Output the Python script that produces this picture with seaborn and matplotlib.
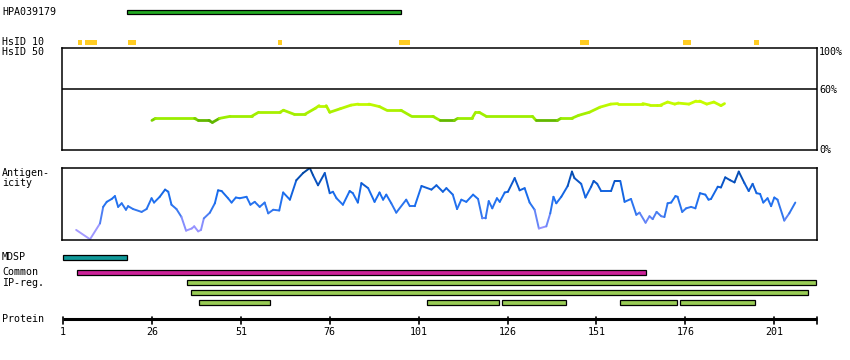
import numpy as np
import pandas as pd
import seaborn as sns
import matplotlib
matplotlib.use("Agg")
import matplotlib.pyplot as plt
from matplotlib.collections import LineCollection
from matplotlib.colors import LinearSegmentedColormap

# protein length and tick labels
prot_len = 213
tick_res = [1, 26, 51, 76, 101, 126, 151, 176, 201]

# antigen (HPA) and HsID regions, residue start/end
hpa_name = "HPA039179"
hpa_span = (19, 96)
hsid10_start = [5.2, 7.2, 19.3, 61.4, 95.4, 146.5, 175.4, 195.4]
hsid10_end = [6.3, 10.6, 21.5, 62.5, 98.5, 148.8, 177.7, 196.8]

# HsID 50 identity (%)
ident_pos = [26, 27, 38, 39, 42, 43, 45, 48, 54, 56, 62, 63, 66, 69, 72, 73, 75, 76,
             79, 82, 84, 87, 90, 92, 96, 99, 105, 107, 111, 112, 116, 117, 118, 120,
             133, 134, 140, 141, 144, 146, 149, 152, 155, 157, 164, 166, 168, 169, 171,
             173, 174, 177, 179, 180, 182, 184, 186, 187]
ident_val = [29, 31, 31, 29, 29, 27, 31, 33, 33, 37, 37, 39, 35, 35, 41, 43.5, 43.5, 37,
             40.5, 44, 45, 45, 42.5, 39, 39, 33, 33, 29, 29, 31, 31, 37, 37, 33,
             33, 29, 29, 31, 31, 34, 37, 42, 45, 45.5, 45.5, 44, 44, 44, 47,
             45, 46, 45, 48, 48, 45, 47, 43.5, 45.5]

# antigenicity score (0-1)
antig_pos = [4.7, 8.6, 11.4, 12.3, 13.3, 14.7, 15.6, 16.5, 17.5, 18.7, 19.3, 20.7, 23.1,
             24.5, 25.9, 26.6, 28.2, 29.7, 30.6, 31.5, 32.9, 34.3, 35.6, 37.2, 37.9, 39,
             39.8, 40.6, 42.3, 43.7, 44.6, 45.6, 47.4, 48.4, 49.6, 50.7, 52.6, 53.7, 54.9,
             56.3, 57.7, 58.7, 60.1, 61.8, 62.9, 64.8, 66.6, 68.5, 70.4, 71.3, 72.7, 74.6,
             76, 76.9, 77.9, 79.7, 81.6, 82.5, 83.9, 84.9, 86.8, 88.6, 90, 91, 91.9, 93.3,
             94.7, 97.5, 98.5, 99.9, 101.8, 104.6, 106, 107.8, 108.8, 110.6, 111.8, 113,
             114.4, 116.3, 117.7, 118.9, 119.8, 120.7, 121.7, 123, 123.8, 125.2, 126.1,
             128, 129.4, 130.8, 132.2, 133.6, 134.8, 136.9, 138, 138.9, 139.7, 141.1,
             142.9, 144.1, 144.8, 146.7, 147.9, 149.5, 150.2, 151.2, 152.3, 155.1, 156.1,
             157.7, 158.9, 160.7, 162.2, 163.1, 164.8, 165.9, 166.8, 167.9, 169.2, 170.1,
             171, 172, 173.2, 173.8, 175.1, 176.2, 177.6, 178.8, 180.1, 181.6, 182.5,
             183.2, 185.1, 186, 187.2, 188.6, 189.8, 191, 192.6, 193.8, 194.9, 196, 197,
             197.9, 199.1, 200.1, 201, 201.9, 203.8, 205.2, 206.9]
antig_val = [0.14, 0.01, 0.23, 0.46, 0.53, 0.57, 0.61, 0.46, 0.51, 0.42, 0.47, 0.43, 0.39,
             0.43, 0.58, 0.52, 0.60, 0.70, 0.67, 0.49, 0.43, 0.32, 0.13, 0.16, 0.19, 0.12,
             0.14, 0.30, 0.38, 0.51, 0.69, 0.68, 0.58, 0.52, 0.59, 0.58, 0.60, 0.49, 0.53,
             0.46, 0.52, 0.37, 0.42, 0.41, 0.66, 0.56, 0.83, 0.93, 1.00, 0.90, 0.76, 0.93,
             0.65, 0.67, 0.58, 0.49, 0.68, 0.65, 0.52, 0.79, 0.72, 0.53, 0.66, 0.56, 0.63, 0.51,
             0.38, 0.56, 0.47, 0.47, 0.75, 0.70, 0.76, 0.67, 0.72, 0.63, 0.43, 0.56,
             0.53, 0.63, 0.57, 0.30, 0.30, 0.54, 0.44, 0.58, 0.53, 0.66, 0.67,
             0.86, 0.69, 0.72, 0.52, 0.42, 0.16, 0.19, 0.37, 0.60, 0.51, 0.60,
             0.75, 0.95, 0.86, 0.78, 0.59, 0.74, 0.82, 0.78, 0.68, 0.68, 0.82,
             0.82, 0.53, 0.57, 0.35, 0.38, 0.24, 0.33, 0.29, 0.39, 0.33, 0.32,
             0.51, 0.52, 0.61, 0.60, 0.39, 0.44, 0.46, 0.44, 0.65, 0.63, 0.56,
             0.57, 0.74, 0.73, 0.87, 0.83, 0.80, 0.95, 0.79, 0.68, 0.78, 0.65, 0.64,
             0.52, 0.58, 0.47, 0.59, 0.56, 0.27, 0.37, 0.52]

# feature tracks
mdsp_span = (1, 19)
common_span = (5, 165)
ipreg_rows = [[(36, 212.7)], [(37, 210.6)],
              [(39.2, 59.3), (103.3, 123.7), (124.4, 142.5), (157.5, 173.7), (174.4, 195.6)]]

sns.set_theme(style="white")
plt.rcParams["font.family"] = ["DejaVu Sans Mono", "DejaVu Sans"]
FS = 7.2

W, H = 850, 360
px0, ppr = 63, (817 - 63) / (prot_len - 1)   # pixel of residue 1, px per residue
xlim = (1 - px0 / ppr, 1 + (W - px0) / ppr)

fig = plt.figure(figsize=(W / 100, H / 100), dpi=100)
ax = fig.add_axes([0, 0, 1, 1])
ax.set_xlim(*xlim)
ax.set_ylim(H, 0)
ax.axis("off")

def lab(y, s):
    ax.text(1 - (px0 - 2) / ppr, y, s, fontsize=FS, va="center", ha="left", color="black")

def bar(a, b, y, h, color):
    ax.add_patch(plt.Rectangle((a, y - h / 2), b - a, h, facecolor=color,
                               edgecolor="black", linewidth=0.9))

lab(12, hpa_name)
bar(hpa_span[0], hpa_span[1], 12, 4.2, "#22aa22")

lab(42, "HsID 10")
for a, b in zip(hsid10_start, hsid10_end):
    ax.add_patch(plt.Rectangle((a, 40), b - a, 4.5, facecolor="#ffcc22", edgecolor="none"))
lab(52, "HsID 50")

lab(257, "MDSP")
bar(mdsp_span[0], mdsp_span[1], 257.5, 4.5, "#119999")
lab(272, "Common")
lab(283, "IP-reg.")
bar(common_span[0], common_span[1], 272.5, 4.5, "#cc2299")
for i, row in enumerate(ipreg_rows):
    for a, b in row:
        bar(a, b, 282.5 + 10 * i, 4.5, "#99cc55")

# protein axis
lab(319, "Protein")
ax.plot([1, prot_len], [319, 319], color="black", linewidth=2.2, solid_capstyle="butt")
for t in tick_res + [prot_len]:
    ax.plot([t, t], [316.5, 324], color="black", linewidth=1.2)
for t in tick_res:
    ax.text(t, 332, str(t), fontsize=FS, ha="center", va="center", color="black")

# panels
def panel(top, bottom):
    l = (px0 - 1) / W
    pa = fig.add_axes([l, 1 - bottom / H, 817 / W - l, (bottom - top) / H])
    pa.set_xlim(1 - 1 / ppr, prot_len)
    pa.set_xticks([])
    pa.set_yticks([])
    for s in pa.spines.values():
        s.set_color("black")
        s.set_linewidth(1.1)
    pa.patch.set_alpha(0)
    return pa

def grad_line(pa, x, y, cmap, vmin, vmax, lw):
    pts = np.column_stack([x, y]).reshape(-1, 1, 2)
    segs = np.concatenate([pts[:-1], pts[1:]], axis=1)
    lc = LineCollection(segs, cmap=cmap, norm=plt.Normalize(vmin, vmax), linewidth=lw,
                        capstyle="round")
    lc.set_array((np.asarray(y[:-1]) + np.asarray(y[1:])) / 2)
    pa.add_collection(lc)

# identity panel
p1 = panel(48, 150)
p1.set_ylim(0, 100)
p1.axhline(60, color="black", linewidth=1.1)
id_df = pd.DataFrame({"pos": ident_pos, "ident": ident_val})
id_cmap = LinearSegmentedColormap.from_list(
    "id", [(0, "#55aa00"), (0.12, "#66bb00"), (0.17, "#99ee00"), (0.55, "#aaf000"), (1, "#ccff00")])
grad_line(p1, id_df["pos"].values, id_df["ident"].values, id_cmap, 27, 48, 2.0)
for y, s in [(52, "100%"), (90, "60%"), (150, "0%")]:
    ax.text(xlim[1] - (W - 819) / ppr, y, s, fontsize=FS, va="center", ha="left", color="black")

# antigenicity panel
lab(173, "Antigen-")
lab(183, "icity")
p2 = panel(168, 240)
p2.set_ylim(0, 1.0)
ag_df = pd.DataFrame({"pos": antig_pos, "score": antig_val})
ag_cmap = LinearSegmentedColormap.from_list(
    "ag", ["#b0a0ff", "#9090ff", "#3377ee", "#1a6ef0", "#0a55c8", "#00449a"])
grad_line(p2, ag_df["pos"].values, ag_df["score"].values, ag_cmap, 0, 1, 1.4)

fig.savefig("out.png", dpi=100)
